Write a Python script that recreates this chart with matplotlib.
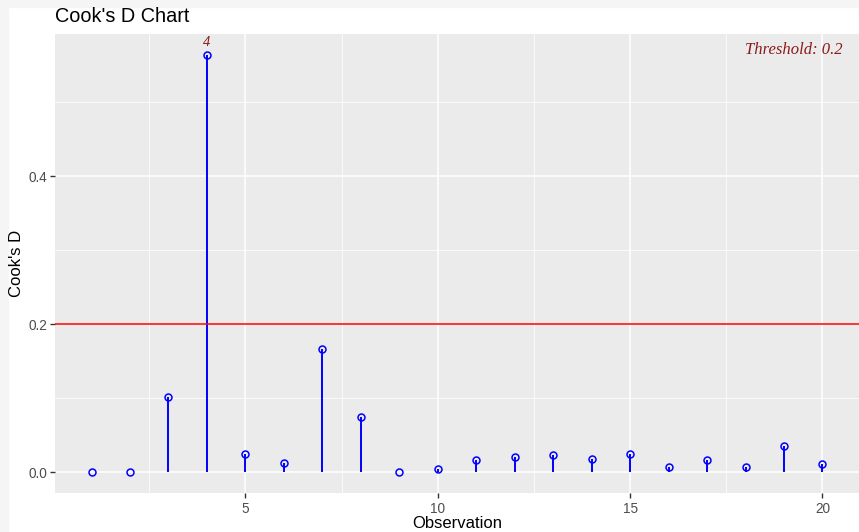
import matplotlib.pyplot as plt
from matplotlib.patches import Rectangle

# cook's distance per observation
obs = list(range(1, 21))
cooks_d = [0.0004, 0.0002, 0.102, 0.564, 0.025, 0.012, 0.167, 0.074, 0.0003, 0.0045,
           0.017, 0.021, 0.023, 0.018, 0.024, 0.0068, 0.016, 0.0072, 0.036, 0.011]
threshold = 0.2
outliers = [4]

plt.rcParams['font.family'] = ['Liberation Sans', 'DejaVu Sans']

fig = plt.figure(figsize=(8.59, 5.32), dpi=100)
# light frame on the left and top edge of the screenshot
fig.patches.append(Rectangle((0, 0), 8 / 859, 1, transform=fig.transFigure, color='#f5f5f5', zorder=-1))
fig.patches.append(Rectangle((0, 1 - 7 / 532), 1, 7 / 532, transform=fig.transFigure, color='#f5f5f5', zorder=-1))

ax = fig.add_axes([55 / 859, 1 - 493 / 532, 1 - 55 / 859, (493 - 34) / 532])
ax.set_facecolor('#EBEBEB')
for s in ax.spines.values():
    s.set_visible(False)

ax.set_xticks([5, 10, 15, 20])
ax.set_xticks([2.5, 7.5, 12.5, 17.5], minor=True)
ax.set_yticks([0.0, 0.2, 0.4])
ax.set_yticks([0.1, 0.3, 0.5], minor=True)
ax.set_yticklabels(['0.0', '0.2', '0.4'])
ax.grid(which='major', color='white', linewidth=1.1)
ax.grid(which='minor', color='white', linewidth=0.55)
ax.set_axisbelow(True)
ax.tick_params(which='major', length=3.3, width=1, color='#333333', labelcolor='#4D4D4D', labelsize=9.8)
ax.tick_params(axis='x', pad=3.5)
ax.tick_params(axis='y', pad=2.2)
ax.tick_params(which='minor', length=0)

# stems and hollow points
ax.vlines(obs, 0, cooks_d, color='blue', linewidth=1.4, zorder=2)
ax.plot(obs, cooks_d, linestyle='none', marker='o', markersize=5, markerfacecolor='none',
        markeredgecolor='blue', markeredgewidth=1.1, zorder=3)
ax.axhline(threshold, color='red', linewidth=1.1, zorder=2)

for o in outliers:
    ax.annotate(str(o), (o, cooks_d[o - 1]), xytext=(0, 8.6), textcoords='offset points',
                ha='center', va='center', color='#8B1A1A', fontsize=10.5,
                family=['Liberation Serif'], style='italic')

ax.text(0.9795, 0.965, 'Threshold: ' + str(threshold), transform=ax.transAxes, ha='right', va='center',
        color='#8B1A1A', fontsize=12, family=['Liberation Serif'], style='italic')

ymax = max(cooks_d)
pad = ymax * 0.05
ax.set_ylim(-pad, ymax + pad)
ax.set_xlim(1 - 0.95, 20 + 0.95)

ax.set_xlabel('Observation', fontsize=12, labelpad=0)
ax.set_ylabel("Cook's D", fontsize=12, labelpad=3)
fig.text(55 / 859, 1 - 16 / 532, "Cook's D Chart", ha='left', va='center', fontsize=14.3)

fig.savefig('out.png', dpi=100)
